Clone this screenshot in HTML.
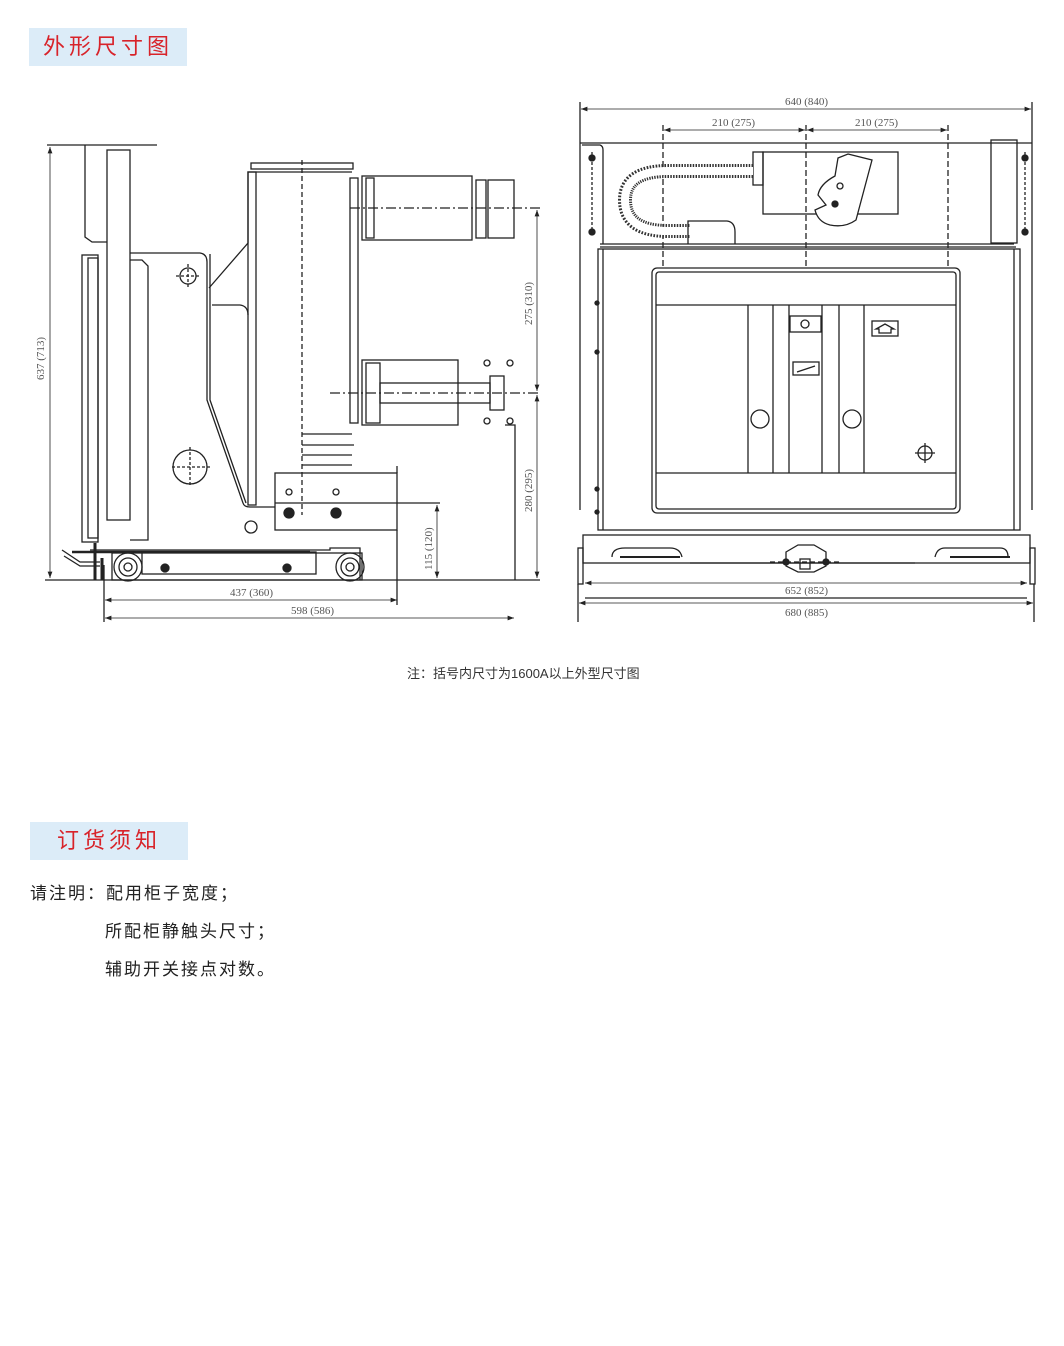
<!DOCTYPE html>
<html><head><meta charset="utf-8"><style>
html,body{margin:0;padding:0;background:#fff;}
body{width:1064px;height:1346px;position:relative;overflow:hidden;font-family:"Liberation Sans","Noto Sans CJK SC",sans-serif;}
.tag{position:absolute;background:#dcecf8;color:#d8232a;font-size:22px;letter-spacing:4px;line-height:38px;text-align:center;}
.t{position:absolute;font-size:17px;color:#222;letter-spacing:2px;}
svg text{font-family:"Liberation Serif",serif;font-size:11px;fill:#555;stroke:none;}
</style></head><body>
<div class="tag" style="left:29px;top:28px;width:158px;height:38px;">外形尺寸图</div>
<div class="tag" style="left:30px;top:822px;width:158px;height:38px;">订货须知</div>
<div class="t" style="left:30px;top:879px;">请注明：配用柜子宽度；</div>
<div class="t" style="left:105px;top:917px;">所配柜静触头尺寸；</div>
<div class="t" style="left:105px;top:955px;">辅助开关接点对数。</div>
<div style="position:absolute;left:407px;top:663px;font-size:13px;color:#333;">注：括号内尺寸为1600A以上外型尺寸图</div>

<svg width="1064" height="700" style="position:absolute;left:0;top:0" fill="none" stroke="#222" stroke-width="1.3">
<defs><marker id="a" markerWidth="8" markerHeight="6" refX="8" refY="3" orient="auto-start-reverse"><path d="M0,0L8,3L0,6z" fill="#222" stroke="none"/></marker></defs>
<!-- SIDE VIEW -->
<g>
<line x1="47" y1="145" x2="157" y2="145"/>
<line x1="50" y1="147" x2="50" y2="578" marker-start="url(#a)" marker-end="url(#a)" stroke-width="0.8"/>
<text x="0" y="0" transform="translate(44,380) rotate(-90)">637 (713)</text>
<line x1="45" y1="580" x2="540" y2="580"/>
<path d="M85,145 V237 L92,242 H107"/>
<rect x="107" y="150" width="23" height="370"/>
<rect x="82" y="255" width="16" height="287"/>
<rect x="88" y="258" width="10" height="280"/>
<path d="M130,260 H142 L148,266 V540 H130"/>
<path d="M130,253 H200 Q207,254 207,262 V400 L243,503 Q244,507 250,507 H275"/>
<path d="M210,254 V400 L246,503"/>
<path d="M209,288 L248,243 V172 H352"/>
<path d="M212,305 H240 Q248,306 248,315"/>
<rect x="251" y="163" width="102" height="6"/>
<rect x="248" y="172" width="8" height="333"/>
<line x1="302" y1="160" x2="302" y2="515" stroke-dasharray="5,3"/>
<path d="M302,434 H352 M302,445 H354 M302,455 H352 M302,465 H352"/>
<rect x="350" y="178" width="8" height="245"/>
<rect x="362" y="176" width="110" height="64"/>
<rect x="366" y="178" width="8" height="60"/>
<rect x="476" y="180" width="10" height="58"/>
<rect x="488" y="180" width="26" height="58"/>
<line x1="350" y1="208" x2="540" y2="208" stroke-dasharray="10,3,2,3"/>
<rect x="362" y="360" width="96" height="65"/>
<rect x="366" y="363" width="14" height="60"/>
<rect x="380" y="383" width="110" height="20"/>
<rect x="490" y="376" width="14" height="34"/>
<line x1="330" y1="393" x2="540" y2="393" stroke-dasharray="10,3,2,3"/>
<circle cx="487" cy="363" r="3"/><circle cx="510" cy="363" r="3"/><circle cx="487" cy="421" r="3"/><circle cx="510" cy="421" r="3"/>
<path d="M505,425 H515 V580"/>
<line x1="537" y1="210" x2="537" y2="391" marker-start="url(#a)" marker-end="url(#a)" stroke-width="0.8"/>
<line x1="537" y1="395" x2="537" y2="578" marker-start="url(#a)" marker-end="url(#a)" stroke-width="0.8"/>
<text transform="translate(532,325) rotate(-90)">275 (310)</text>
<text transform="translate(532,512) rotate(-90)">280 (295)</text>
<rect x="275" y="473" width="122" height="57"/>
<path d="M397,466 V473 M397,530 V605"/>
<line x1="275" y1="503" x2="440" y2="503"/>
<line x1="437" y1="505" x2="437" y2="578" marker-start="url(#a)" marker-end="url(#a)" stroke-width="0.8"/>
<text transform="translate(432,570) rotate(-90)">115 (120)</text>
<circle cx="188" cy="276" r="8"/><path d="M176,276H200M188,264V288" stroke-dasharray="3,2"/>
<circle cx="190" cy="467" r="17"/><path d="M172,467H210M190,447V487" stroke-dasharray="3,2"/>
<circle cx="251" cy="527" r="6"/>
<circle cx="289" cy="492" r="3"/><circle cx="336" cy="492" r="3"/>
<circle cx="289" cy="513" r="5" fill="#222"/><circle cx="336" cy="513" r="5" fill="#222"/>
<path d="M90,550 H330 V548 H360 V580"/>
<path d="M72,552 H310" stroke-width="2.5"/>
<rect x="142" y="552" width="174" height="22"/>
<circle cx="128" cy="567" r="14"/><circle cx="128" cy="567" r="9"/><circle cx="128" cy="567" r="4"/>
<circle cx="350" cy="567" r="14"/><circle cx="350" cy="567" r="9"/><circle cx="350" cy="567" r="4"/>
<rect x="112" y="553" width="250" height="27"/>
<path d="M95,543V580M102,558V580" stroke-width="3"/>
<path d="M62,550 L80,562 H100 M64,556 L80,566 H100"/>
<circle cx="165" cy="568" r="4" fill="#222"/><circle cx="287" cy="568" r="4" fill="#222"/>
<line x1="104" y1="565" x2="104" y2="622"/>
<line x1="105" y1="600" x2="397" y2="600" marker-start="url(#a)" marker-end="url(#a)" stroke-width="0.8"/>
<text x="230" y="596">437 (360)</text>
<line x1="105" y1="618" x2="514" y2="618" marker-start="url(#a)" marker-end="url(#a)" stroke-width="0.8"/>
<text x="291" y="614">598 (586)</text>
</g>
<!-- FRONT VIEW -->
<g>
<line x1="580" y1="102" x2="580" y2="510"/><line x1="1032" y1="102" x2="1032" y2="510"/>
<line x1="581" y1="109" x2="1031" y2="109" marker-start="url(#a)" marker-end="url(#a)" stroke-width="0.8"/>
<text x="785" y="105">640 (840)</text>
<line x1="664" y1="130" x2="805" y2="130" marker-start="url(#a)" marker-end="url(#a)" stroke-width="0.8"/>
<line x1="807" y1="130" x2="947" y2="130" marker-start="url(#a)" marker-end="url(#a)" stroke-width="0.8"/>
<text x="712" y="126">210 (275)</text><text x="855" y="126">210 (275)</text>
<line x1="663" y1="125" x2="663" y2="268" stroke-dasharray="6,3"/>
<line x1="806" y1="125" x2="806" y2="268" stroke-dasharray="6,3"/>
<line x1="948" y1="125" x2="948" y2="268" stroke-dasharray="6,3"/>
<line x1="580" y1="143" x2="1032" y2="143"/>
<path d="M582,145 H600 Q603,146 603,150 V244"/>
<path d="M600,244 H1014 M600,247 H1016"/>
<rect x="991" y="140" width="26" height="103"/>
<rect x="598" y="249" width="422" height="281"/>
<line x1="603" y1="249" x2="603" y2="530"/><line x1="1014" y1="249" x2="1014" y2="530"/>
<rect x="652" y="268" width="308" height="245" rx="5"/>
<rect x="656" y="272" width="300" height="237" rx="3"/>
<line x1="656" y1="305" x2="956" y2="305"/><line x1="656" y1="473" x2="956" y2="473"/>
<path d="M748,305V473M773,305V473M789,305V473M822,305V473M839,305V473M864,305V473"/>
<rect x="790" y="316" width="31" height="16"/><circle cx="805" cy="324" r="4"/>
<rect x="793" y="362" width="26" height="13"/><line x1="797" y1="372" x2="815" y2="366"/>
<rect x="872" y="321" width="26" height="15"/><path d="M879,333 V329 H876 L885,324 L894,329 H891 V333 Z"/>
<circle cx="760" cy="419" r="9"/><circle cx="852" cy="419" r="9"/>
<circle cx="925" cy="453" r="7"/><path d="M915,453H935M925,443V463"/>
<rect x="763" y="152" width="135" height="62"/><rect x="753" y="152" width="10" height="33"/>
<path d="M848,154 L872,160 L856,220 Q845,228 830,225 Q818,222 815,210 L826,205 L818,195 Q820,184 835,176 L838,158 Z" fill="#fff"/>
<circle cx="840" cy="186" r="3"/><circle cx="835" cy="204" r="3" fill="#222"/>
<path d="M753,171 H668 Q625,171 625,200 Q625,231 668,231 H690" stroke-width="14" stroke="#333" stroke-dasharray="1.5,1.3"/>
<path d="M753,171 H668 Q625,171 625,200 Q625,231 668,231 H690" stroke-width="8" stroke="#fff"/>
<path d="M688,244 V221 H727 Q735,222 735,232 V244"/>
<path d="M592,152V236M1025,152V236" stroke-dasharray="3,2"/>
<circle cx="592" cy="158" r="3" fill="#222"/><circle cx="592" cy="232" r="3" fill="#222"/>
<circle cx="1025" cy="158" r="3" fill="#222"/><circle cx="1025" cy="232" r="3" fill="#222"/>
<circle cx="597" cy="303" r="2" fill="#222"/><circle cx="597" cy="352" r="2" fill="#222"/><circle cx="597" cy="489" r="2" fill="#222"/><circle cx="597" cy="512" r="2" fill="#222"/>
<rect x="583" y="535" width="447" height="28"/>
<rect x="578" y="548" width="5" height="36"/><rect x="1030" y="548" width="5" height="36"/>
<path d="M620,557 H680 M950,557 H1010" stroke-width="2"/>
<path d="M612,557 Q612,548 625,548 H670 Q680,548 682,557"/>
<path d="M935,557 Q937,548 945,548 H1000 Q1008,548 1008,557"/>
<path d="M786,552 L798,545 H814 L826,552 V566 L814,572 H798 L786,566Z"/>
<rect x="800" y="559" width="10" height="10"/><circle cx="786" cy="562" r="3" fill="#222"/><circle cx="826" cy="562" r="3" fill="#222"/>
<line x1="770" y1="562" x2="842" y2="562" stroke-dasharray="5,3"/>
<line x1="690" y1="563" x2="915" y2="563"/>
<line x1="578" y1="584" x2="578" y2="622"/><line x1="1034" y1="584" x2="1034" y2="622"/>
<line x1="585" y1="598" x2="1027" y2="598"/>
<line x1="585" y1="583" x2="1027" y2="583" marker-start="url(#a)" marker-end="url(#a)" stroke-width="0.8"/>
<line x1="579" y1="603" x2="1033" y2="603" marker-start="url(#a)" marker-end="url(#a)" stroke-width="0.8"/>
<text x="785" y="594">652 (852)</text>
<text x="785" y="616">680 (885)</text>
</g>
</svg>
</body></html>
